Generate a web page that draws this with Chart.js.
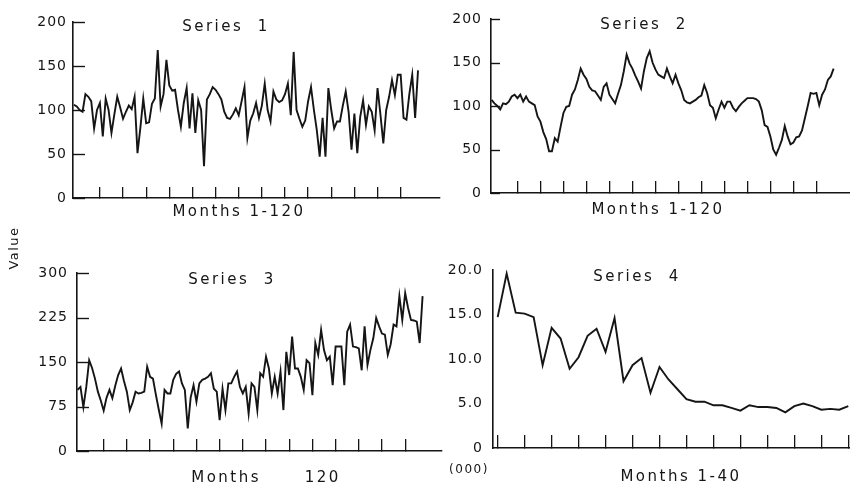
<!DOCTYPE html>
<html>
<head>
<meta charset="utf-8">
<script src="https://cdn.jsdelivr.net/npm/chart.js@4.4.0/dist/chart.umd.min.js"></script>
<style>
    html, body { margin: 0; padding: 0; background: #fff; }
    #wrap { position: relative; width: 850px; height: 487px; overflow: hidden; }
    canvas { position: absolute; left: 0; top: 0; }
</style>
</head>
<body>
<div id="wrap">
    <canvas id="c1" width="850" height="487"></canvas>
    <canvas id="c2" width="850" height="487"></canvas>
    <canvas id="c3" width="850" height="487"></canvas>
    <canvas id="c4" width="850" height="487"></canvas>
</div>
<script>
// Values (one value per month)
const series1 = [
    106, 104, 100, 98, 118, 115, 110, 79, 100, 108,
    70, 113, 100, 74, 95, 115, 103, 90, 98, 105,
    101, 115, 51, 80, 113, 85, 86, 107, 113, 168,
    104, 118, 157, 128, 122, 123, 100, 81, 108, 125,
    79, 119, 74, 111, 100, 36, 112, 118, 126, 123,
    118, 112, 98, 91, 90, 95, 102, 94, 110, 126,
    68, 88, 96, 108, 91, 105, 130, 100, 87, 121,
    112, 109, 111, 118, 130, 94, 166, 100, 90, 81,
    88, 110, 126, 100, 77, 47, 91, 47, 125, 100,
    79, 87, 87, 105, 121, 98, 55, 96, 51, 92,
    111, 83, 104, 98, 77, 125, 95, 62, 100, 115,
    134, 117, 140, 140, 91, 89, 118, 140, 91, 145
];
const series2 = [
    107, 103, 100, 96, 103, 102, 105, 111, 113, 109,
    113, 105, 111, 105, 103, 101, 88, 82, 70, 62,
    48, 48, 63, 59, 76, 92, 99, 100, 113, 119,
    130, 143, 136, 131, 122, 118, 117, 112, 107, 122,
    126, 113, 108, 103, 114, 124, 140, 159, 149, 143,
    135, 128, 120, 140, 155, 163, 150, 142, 136, 134,
    132, 143, 134, 126, 136, 126, 118, 107, 104, 103,
    105, 107, 110, 112, 124, 115, 101, 98, 86, 96,
    105, 98, 105, 105, 98, 94, 99, 103, 106, 109,
    109, 109, 108, 105, 95, 78, 76, 65, 50, 44,
    52, 61, 77, 65, 56, 58, 64, 65, 72, 86,
    100, 115, 114, 115, 101, 113, 119, 130, 134, 143
];
const series3 = [
    103, 108, 74, 108, 153, 140, 122, 100, 85, 68,
    90, 103, 89, 110, 128, 139, 118, 100, 69, 82,
    100, 97, 98, 100, 142, 125, 122, 95, 70, 46,
    103, 97, 97, 120, 130, 134, 114, 103, 38, 90,
    111, 83, 114, 120, 122, 125, 131, 105, 100, 52,
    105, 69, 114, 114, 125, 134, 108, 97, 108, 63,
    114, 108, 69, 131, 125, 159, 139, 97, 125, 97,
    134, 69, 167, 128, 193, 139, 139, 125, 103, 153,
    148, 94, 182, 162, 204, 170, 153, 159, 111, 176,
    176, 176, 111, 201, 213, 176, 175, 173, 136, 210,
    145, 170, 190, 224, 210, 198, 196, 162, 180, 213,
    210, 261, 221, 266, 241, 221, 220, 218, 182, 261
];
const series4 = [
    14.7, 19.6, 15.2, 15.1, 14.7, 9.3, 13.5, 12.3, 8.9, 10.2,
    12.6, 13.4, 10.8, 14.6, 7.5, 9.3, 10.1, 6.2, 9.1, 7.7,
    6.6, 5.5, 5.2, 5.2, 4.8, 4.8, 4.5, 4.2, 4.8, 4.6,
    4.6, 4.5, 4.0, 4.7, 5.0, 4.7, 4.3, 4.4, 4.3, 4.7
];

// tick marks on the month axes
const monthTicks120 = [10, 18, 26, 34, 42, 50, 58, 66, 74, 82, 90, 98, 106, 114];
const monthTicks40 = [1, 4, 7, 10, 13, 16, 19, 22, 25, 28, 31, 34, 37, 40];

// value axes
const yTicks1 = [0, 50, 100, 150, 200];
const yLabels1 = ["0", "50", "100", "150", "200"];
const yTicks3 = [0, 75, 150, 225, 300];
const yLabels3 = ["0", "75", "150", "225", "300"];
const yTicks4 = [0, 5, 10, 15, 20];
const yLabels4 = ["0", "5.0", "10.0", "15.0", "20.0"];

const ink = "#151515";
const fontName = "'DejaVu Sans', sans-serif";

// panel captions + the short inward ticks on the value axis
const panelText = {
    id: "panelText",
    beforeDraw(chart) {
        chart.ctx.letterSpacing = "1px";
    },
    afterDraw(chart) {
        const opts = chart.options.plugins.panelText;
        const ctx = chart.ctx;

        const yScale = chart.scales.y;
        if (opts.yTickLen > 0) {
            ctx.save();
            ctx.strokeStyle = ink;
            ctx.lineWidth = 1.4;
            yScale.ticks.forEach(t => {
                const py = Math.round(yScale.getPixelForValue(t.value)) + 0.5;
                ctx.beginPath();
                ctx.moveTo(yScale.right, py);
                ctx.lineTo(yScale.right + opts.yTickLen, py);
                ctx.stroke();
            });
            ctx.restore();
        }

        (opts.items || []).forEach(t => {
            ctx.save();
            ctx.fillStyle = ink;
            ctx.font = `${t.size}px ${fontName}`;
            ctx.letterSpacing = (t.spacing || 2) + "px";
            ctx.textAlign = "center";
            ctx.textBaseline = "middle";
            ctx.translate(t.x, t.y);
            if (t.rotate) ctx.rotate(t.rotate);
            ctx.fillText(t.text, 0, 0);
            ctx.restore();
        });
    }
};
Chart.register(panelText);

function makePanel(id, values, o) {
    const months = values.map((_, i) => i + 1);
    return new Chart(document.getElementById(id), {
        type: "line",
        data: {
            labels: months,
            datasets: [{
                data: values,
                borderColor: ink,
                borderWidth: 1.9,
                pointRadius: 0,
                tension: 0,
                fill: false
            }]
        },
        options: {
            responsive: false,
            animation: false,
            events: [],
            layout: { padding: o.pad },
            plugins: {
                legend: { display: false },
                tooltip: { enabled: false },
                panelText: { items: o.texts, yTickLen: o.yTickLen }
            },
            scales: {
                x: {
                    type: "linear",
                    min: o.xMin,
                    max: o.xMax,
                    afterFit: s => { s.height = 0; },
                    afterBuildTicks: s => { s.ticks = o.xTicks.map(v => ({ value: v })); },
                    ticks: { display: false },
                    grid: {
                        drawOnChartArea: false,
                        drawTicks: true,
                        tickLength: -o.xTickLen,
                        color: ink,
                        lineWidth: 1.3
                    },
                    border: { display: true, color: ink, width: 1.6 }
                },
                y: {
                    min: o.yTicks[0],
                    max: o.yTicks[o.yTicks.length - 1],
                    afterFit: s => { s.width = 70; },
                    afterBuildTicks: s => { s.ticks = o.yTicks.map(v => ({ value: v })); },
                    ticks: {
                        color: ink,
                        font: { family: "DejaVu Sans", size: 14 },
                        padding: o.yGap,
                        callback: (v, i) => o.yLabels[i]
                    },
                    grid: { drawOnChartArea: false, drawTicks: false },
                    border: { display: true, color: ink, width: 1.6 }
                }
            }
        }
    });
}

// Series 1 (top left)
makePanel("c1", series1, {
    pad: { left: 3, top: 22, right: 410, bottom: 289 },
    xMin: 0.7, xMax: 127.6, xTicks: monthTicks120, xTickLen: 11,
    yTicks: yTicks1, yLabels: yLabels1, yTickLen: 12, yGap: 6,
    texts: [
        { text: "Series  1", x: 226, y: 27, size: 15, spacing: 2.5 },
        { text: "Months 1-120", x: 239, y: 212, size: 15, spacing: 2.5 }
    ]
});

// Series 2 (top right)
makePanel("c2", series2, {
    pad: { left: 421, top: 19, right: 0, bottom: 294 },
    xMin: 0.8, xMax: 125.7, xTicks: monthTicks120, xTickLen: 12,
    yTicks: yTicks1, yLabels: yLabels1, yTickLen: 9, yGap: 9,
    texts: [
        { text: "Series  2", x: 644, y: 25, size: 15, spacing: 2.5 },
        { text: "Months 1-120", x: 658, y: 210, size: 15, spacing: 2.5 }
    ]
});

// Series 3 (bottom left)
makePanel("c3", series3, {
    pad: { left: 7, top: 273, right: 408, bottom: 36 },
    xMin: 0.8, xMax: 126.7, xTicks: monthTicks120, xTickLen: 12,
    yTicks: yTicks3, yLabels: yLabels3, yTickLen: 12, yGap: 9,
    texts: [
        { text: "Series  3", x: 232, y: 280, size: 15, spacing: 2.5 },
        { text: "Months      120", x: 266, y: 478, size: 15, spacing: 2.5 },
        { text: "Value", x: 15, y: 248, size: 13, spacing: 1.5, rotate: -Math.PI / 2 }
    ]
});

// Series 4 (bottom right)
makePanel("c4", series4, {
    pad: { left: 423, top: 270, right: 0, bottom: 39 },
    xMin: 0.48, xMax: 40.19, xTicks: monthTicks40, xTickLen: 13,
    yTicks: yTicks4, yLabels: yLabels4, yTickLen: 0, yGap: 10,
    texts: [
        { text: "Series  4", x: 637, y: 277, size: 15, spacing: 2.5 },
        { text: "Months 1-40", x: 681, y: 477, size: 15, spacing: 2.5 },
        { text: "(000)", x: 469, y: 470, size: 12, spacing: 1.5 }
    ]
});
</script>
</body>
</html>
